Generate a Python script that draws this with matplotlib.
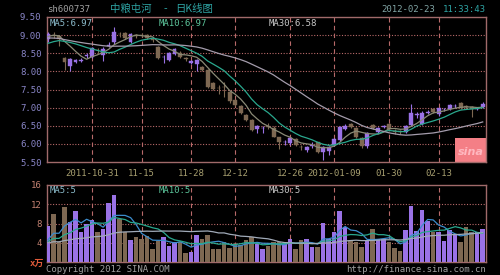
import numpy as np
import pandas as pd
import matplotlib
matplotlib.use("Agg")
import matplotlib.pyplot as plt
from matplotlib.patches import Rectangle

# ---------------- data ----------------
opens = [8.88, 9.00, 8.98, 8.37, 8.16, 8.27, 8.30, 8.42, 8.40, 8.60,
         8.46, 8.70, 8.80, 9.04, 9.06, 8.82, 8.99, 9.01, 9.00, 8.88,
         8.67, 8.39, 8.31, 8.48, 8.51, 8.36, 8.24, 8.20, 8.13, 8.04,
         7.68, 7.55, 7.58, 7.44, 7.21, 7.04, 6.80, 6.66, 6.41, 6.43,
         6.48, 6.45, 6.18, 6.04, 6.02, 6.13, 5.92, 5.82, 5.94, 6.04,
         5.78, 5.79, 5.97, 6.10, 6.42, 6.55, 6.44, 6.16, 5.95, 6.52,
         6.34, 6.47, 6.55, 6.36, 6.34, 6.34, 6.52, 6.80, 6.55, 6.86,
         6.96, 6.82, 6.95, 6.96, 7.04, 7.13, 7.03, 7.02, 6.97, 7.02]
highs = [9.08, 9.10, 9.00, 8.40, 8.36, 8.34, 8.38, 8.52, 8.68, 8.64,
         8.66, 8.80, 9.22, 9.10, 9.08, 9.05, 9.02, 9.05, 9.02, 8.90,
         8.70, 8.45, 8.54, 8.65, 8.55, 8.40, 8.32, 8.34, 8.16, 8.06,
         7.70, 7.62, 7.70, 7.46, 7.24, 7.06, 6.83, 6.68, 6.52, 6.50,
         6.58, 6.48, 6.20, 6.12, 6.20, 6.15, 5.96, 5.93, 6.04, 6.06,
         5.93, 5.94, 6.16, 6.50, 6.54, 6.58, 6.46, 6.18, 6.33, 6.55,
         6.47, 6.53, 6.58, 6.40, 6.38, 6.52, 7.10, 6.88, 6.90, 6.93,
         6.99, 7.00, 7.00, 7.10, 7.10, 7.15, 7.08, 7.04, 7.03, 7.16]
lows = [8.80, 8.93, 8.70, 8.05, 8.00, 8.22, 8.26, 8.38, 8.36, 8.52,
        8.30, 8.66, 8.75, 8.96, 8.88, 8.78, 8.92, 8.95, 8.88, 8.80,
        8.35, 8.23, 8.28, 8.45, 8.37, 8.29, 8.20, 8.00, 8.00, 7.55,
        7.48, 7.38, 7.28, 7.14, 7.04, 6.82, 6.62, 6.35, 6.30, 6.30,
        6.40, 6.18, 5.86, 5.98, 5.98, 5.93, 5.82, 5.78, 5.88, 5.76,
        5.56, 5.70, 5.94, 6.08, 6.38, 6.44, 6.17, 5.90, 5.90, 6.42,
        6.30, 6.43, 6.38, 6.28, 6.28, 6.30, 6.50, 6.72, 6.52, 6.82,
        6.84, 6.78, 6.90, 6.93, 7.00, 6.96, 6.95, 6.74, 6.93, 6.98]
closes = [9.02, 8.98, 8.88, 8.27, 8.33, 8.30, 8.32, 8.45, 8.64, 8.58,
          8.63, 8.74, 9.08, 9.02, 8.92, 9.02, 8.97, 9.00, 8.91, 8.86,
          8.38, 8.41, 8.51, 8.62, 8.40, 8.34, 8.28, 8.31, 8.04, 7.58,
          7.52, 7.53, 7.56, 7.17, 7.07, 6.85, 6.66, 6.38, 6.49, 6.45,
          6.46, 6.20, 6.04, 6.06, 6.16, 5.96, 5.91, 5.91, 5.96, 5.78,
          5.91, 5.91, 6.13, 6.47, 6.50, 6.47, 6.20, 5.95, 6.30, 6.45,
          6.44, 6.49, 6.41, 6.34, 6.33, 6.48, 6.85, 6.81, 6.86, 6.88,
          6.87, 6.98, 6.96, 7.07, 7.05, 6.99, 7.02, 6.96, 6.99, 7.09]
volumes = [7.4, 10.0, 4.1, 11.4, 8.3, 10.5, 6.3, 7.9, 8.8, 6.3,
           6.9, 12.3, 14.0, 9.0, 6.2, 4.6, 5.1, 4.8, 5.5, 2.7,
           4.4, 5.1, 3.4, 4.1, 4.1, 1.8, 2.0, 5.7, 4.8, 5.7,
           2.7, 2.7, 4.2, 3.0, 3.6, 3.5, 4.5, 5.1, 3.7, 2.7,
           3.4, 4.1, 4.1, 3.7, 4.8, 2.7, 4.6, 4.8, 3.2, 3.2,
           8.1, 4.8, 6.3, 10.5, 7.2, 4.4, 4.1, 3.2, 4.6, 6.9,
           4.8, 4.8, 4.1, 2.9, 2.3, 6.7, 11.6, 6.4, 10.9, 8.6,
           6.2, 6.2, 4.4, 6.6, 5.8, 4.1, 7.2, 6.2, 6.2, 6.9]
# closes / volumes of the 29 sessions before the window (estimated from the MA lines)
lead_in_close = [9.10, 9.18, 9.25, 9.20, 9.12, 9.05, 9.15, 9.22, 9.30, 9.24,
                 9.15, 9.08, 9.00, 8.92, 8.85, 8.78, 8.70, 8.62, 8.55,
                 8.48, 8.52, 8.58, 8.50, 8.62, 8.70, 8.82, 8.95, 9.05, 8.98]
lead_in_volume = [3.8, 4.2, 3.5, 4.0, 3.6, 4.4, 3.9, 3.2, 4.1, 3.7,
                  4.5, 3.4, 3.9, 4.2, 3.6, 3.3, 4.0, 4.3, 3.8, 3.5,
                  4.1, 3.9, 3.6, 4.4, 3.7, 3.5, 4.0, 3.8, 4.6]
date_labels = ["2011-10-31", "11-15", "11-28", "12-12", "12-26",
               "2012-01-09", "01-30", "02-13"]
date_index = [8, 17, 26, 34, 44, 52, 62, 71]
price_ticks = [5.5, 6.0, 6.5, 7.0, 7.5, 8.0, 8.5, 9.0, 9.5]
volume_ticks = [4, 8, 12, 16]
ma_windows = [5, 10, 30]
price_ma_text = ["MA5:6.97", "MA10:6.97", "MA30:6.58"]
volume_ma_text = ["MA5:5", "MA10:5", "MA30:5"]

# ---------------- styling ----------------
BG = "#000000"
FRAME = "#a06a6a"
GRID = "#b86a6a"
UP = "#9a72e6"
DOWN = "#7e6852"
MONO = "DejaVu Sans Mono"
CJK = ["Noto Sans CJK SC", "DejaVu Sans"]
price_ma_colors = ["#8a8a76", "#2aa88e", "#a49cac"]
vol_ma_colors = ["#3c8ccc", "#2aa88e", "#a0aab8"]
ma_label_colors = ["#8cbccc", "#5cc49a", "#c8c8c8"]

n = len(closes)
x = np.arange(n)
o = np.array(opens); c = np.array(closes); h = np.array(highs); l = np.array(lows)
v = np.array(volumes)
up = c >= o
colors = np.where(up, UP, DOWN)

full_c = pd.Series(lead_in_close + closes)
full_v = pd.Series(lead_in_volume + volumes)
price_ma = [full_c.rolling(w).mean().to_numpy()[-n:] for w in ma_windows]
vol_ma = [full_v.rolling(w).mean().to_numpy()[-n:] for w in ma_windows]

fig = plt.figure(figsize=(5.0, 2.75), dpi=100, facecolor=BG)
W, H = 500.0, 275.0
def rect(l_, t_, r_, b_):
    return [l_ / W, 1 - b_ / H, (r_ - l_) / W, (b_ - t_) / H]

ax = fig.add_axes(rect(47, 17, 486, 162))
axv = fig.add_axes(rect(47, 185, 486, 262))
xlim = (-0.2, n - 0.4)

for a in (ax, axv):
    a.set_facecolor(BG)
    a.set_xlim(*xlim)
    for s in a.spines.values():
        s.set_color(FRAME)
        s.set_linewidth(1.0)
    for xi in date_index:
        a.axvline(xi, color=GRID, lw=0.8, ls=(0, (4, 3)), zorder=1)
    a.tick_params(axis="both", length=0)

# ---- price panel ----
ax.set_ylim(price_ticks[0], price_ticks[-1])
for yv in price_ticks[1:-1]:
    ax.axhline(yv, color=GRID, lw=0.8, ls=(0, (1, 1.5)), zorder=1)
ax.add_patch(Rectangle((0.929, 0.0), 0.071, 0.166, transform=ax.transAxes,
                       facecolor="#f47f86", edgecolor="none", zorder=1.5))
ax.text(0.965, 0.07, "sina", transform=ax.transAxes, color="#ffb8c0",
        fontsize=8, fontstyle="italic", fontweight="bold", ha="center",
        va="center", family="DejaVu Sans", zorder=1.6)

ax.vlines(x, l, h, colors=colors, lw=0.8, zorder=3)
body_bottom = np.minimum(o, c)
body_h = np.maximum(np.abs(c - o), 0.012)
ax.bar(x, body_h, bottom=body_bottom, width=0.68, color=colors,
       edgecolor=colors, lw=0.3, zorder=4)
for ma, col in zip(price_ma, price_ma_colors):
    ax.plot(x, ma, color=col, lw=0.9, zorder=5)

ax.set_yticks(price_ticks)
ax.set_yticklabels([f"{t:.2f}" for t in price_ticks], color="#8a86c8",
                   family=MONO, fontsize=6.5)
ax.tick_params(axis="y", pad=4)
ax.set_xticks(date_index)
ax.set_xticklabels(date_labels, color="#a8a070", family=MONO, fontsize=6.5)
ax.tick_params(axis="x", pad=5)

for txt, xpos, col in zip(price_ma_text, [0.006, 0.255, 0.505], ma_label_colors):
    ax.text(xpos, 0.985, txt, transform=ax.transAxes, color=col,
            family=MONO, fontsize=6.5, va="top", ha="left", zorder=6)

# ---- volume panel ----
axv.set_ylim(0, volume_ticks[-1])
for yv in volume_ticks[:-1]:
    axv.axhline(yv, color=GRID, lw=0.8, ls=(0, (1, 1.5)), zorder=1)
axv.bar(x, v, width=0.8, color=colors, edgecolor="none", zorder=3)
for ma, col in zip(vol_ma, vol_ma_colors):
    axv.plot(x, ma, color=col, lw=0.9, zorder=5)
axv.set_yticks(volume_ticks)
axv.set_yticklabels([str(t) for t in volume_ticks], color="#c48272",
                    family=MONO, fontsize=6.5)
axv.tick_params(axis="y", pad=4)
axv.set_xticks([])
for txt, xpos, col in zip(volume_ma_text, [0.006, 0.255, 0.505], ma_label_colors):
    axv.text(xpos, 0.985, txt, transform=axv.transAxes, color=col,
             family=MONO, fontsize=6.5, va="top", ha="left", zorder=6)

# ---- figure texts ----
fig.text(47 / W, 1 - 9 / H, "sh600737", color="#a0a0a0", family=MONO,
         fontsize=6.5, va="center", ha="left")
fig.text(110 / W, 1 - 9 / H, "中粮屯河", color="#2ea4a4", family=CJK,
         fontsize=7.5, va="center", ha="left")
fig.text(165 / W, 1 - 9 / H, "-", color="#2ea4a4", family=CJK,
         fontsize=7.5, va="center", ha="center")
fig.text(175 / W, 1 - 9 / H, "日K线图", color="#2ea4a4", family=CJK,
         fontsize=7.5, va="center", ha="left")
fig.text(381 / W, 1 - 10 / H, "2012-02-23", color="#80a4a4", family=MONO,
         fontsize=6.5, va="center", ha="left")
fig.text(486 / W, 1 - 10 / H, "11:33:43", color="#2ea4a4", family=MONO,
         fontsize=6.5, va="center", ha="right")
fig.text(44 / W, 1 - 263 / H, "x万", color="#e05a3a",
         family=[MONO, "Noto Sans CJK SC"], fontsize=6.5, fontweight="bold",
         va="center", ha="right")
fig.text(46 / W, 1 - 269 / H, "Copyright 2012 SINA.COM", color="#a0a0a0",
         family=MONO, fontsize=6.5, va="center", ha="left")
fig.text(486 / W, 1 - 269 / H, "http://finance.sina.com.cn", color="#a0a0a0",
         family=MONO, fontsize=6.5, va="center", ha="right")

fig.savefig("out.png", dpi=100, facecolor=BG)
